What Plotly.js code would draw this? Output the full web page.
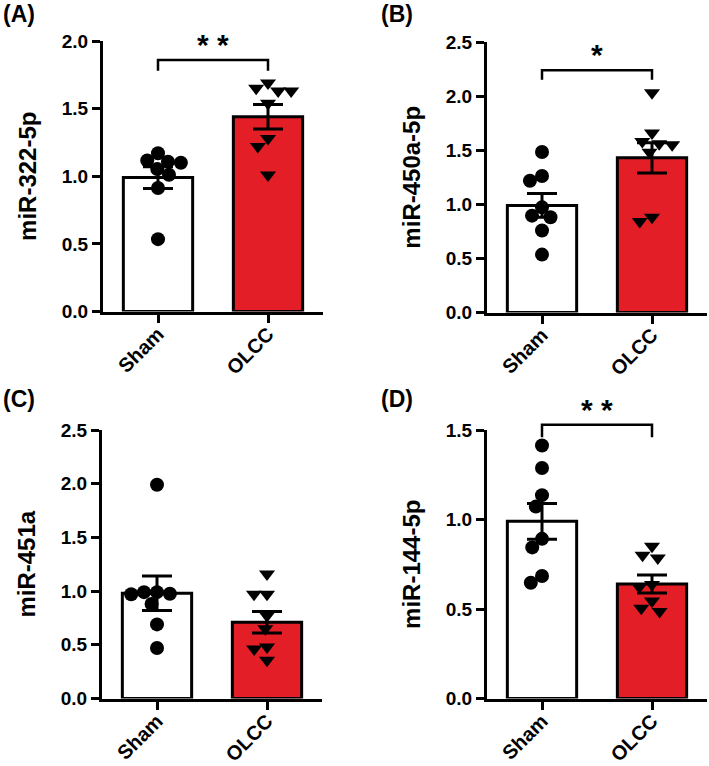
<!DOCTYPE html>
<html>
<head>
<meta charset="utf-8">
<script src="https://cdn.plot.ly/plotly-3.0.1.min.js"></script>
<style>html,body{margin:0;padding:0;background:#fff;}#chart{width:709px;height:766px;}</style>
</head>
<body>
<div id="chart"></div>
<script>
// ---------------- data ----------------
const groups = ['Sham', 'OLCC'];
const panelLabels = ['(A)', '(B)', '(C)', '(D)'];
const yTitles = ['miR-322-5p', 'miR-450a-5p', 'miR-451a', 'miR-144-5p'];
const yMax = [2.0, 2.5, 2.5, 1.5];

const shamA = [1.17, 1.116, 1.108, 1.10, 1.053, 1.011, 0.913, 0.535];
const olccA = [1.69, 1.63, 1.63, 1.65, 1.54, 1.22, 1.28, 1.01];
const meanA = [0.99, 1.44];
const semA  = [0.08, 0.09];

const shamB = [1.483, 1.262, 1.217, 0.972, 0.895, 0.881, 0.758, 0.535];
const olccB = [2.03, 1.66, 1.55, 1.58, 1.56, 1.48, 0.84, 0.88];
const meanB = [0.99, 1.43];
const semB  = [0.11, 0.14];

const shamC = [1.99, 0.99, 0.99, 0.97, 0.975, 0.88, 0.69, 0.47];
const olccC = [1.16, 0.97, 0.97, 0.77, 0.65, 0.48, 0.46, 0.355];
const meanC = [0.98, 0.71];
const semC  = [0.16, 0.10];

const shamD = [1.413, 1.288, 1.136, 1.072, 0.892, 0.844, 0.684, 0.647];
const olccD = [0.80, 0.85, 0.785, 0.637, 0.623, 0.545, 0.486, 0.504];
const meanD = [0.99, 0.64];
const semD  = [0.10, 0.05];

// significance brackets (value of horizontal line, value of leg ends, label)
const sigTop   = [1.86, 2.24, null, 1.53];
const sigLeg   = [1.78, 2.15, null, 1.46];
const sigLabel = ['* *', '*', '', '* *'];

// ---------------- layout helpers ----------------
const W = 709, H = 766;
const RED = '#E41E26';
const FONT = 'Liberation Sans, Arial, sans-serif';
// plot areas in pixels [left, right, top, bottom]
const boxes = [
  [103, 323, 41, 311.5],
  [487, 707, 42, 312.5],
  [102, 322, 430, 698.5],
  [487, 707, 430, 698.5]
];
const xRange = [-0.5, 1.5];

const panels = [
  {sham: shamA, olcc: olccA, mean: meanA, sem: semA},
  {sham: shamB, olcc: olccB, mean: meanB, sem: semB},
  {sham: shamC, olcc: olccC, mean: meanC, sem: semC},
  {sham: shamD, olcc: olccD, mean: meanD, sem: semD}
];

function swarm(vals, pxPerY, pxPerX, D) {
  const idx = vals.map((v, i) => i).sort((a, b) => vals[b] - vals[a]);
  const placed = [];
  const off = new Array(vals.length);
  idx.forEach(i => {
    const y = vals[i] * pxPerY;
    const cands = [0];
    placed.forEach(p => {
      const dy = Math.abs(p.y - y);
      if (dy < D) {
        const dx = Math.sqrt(D * D - dy * dy);
        cands.push(p.x + dx, p.x - dx);
      }
    });
    cands.sort((a, b) => (Math.abs(a) - Math.abs(b)) || (a - b));
    const x = cands.find(c => placed.every(p => (p.x - c) ** 2 + (p.y - y) ** 2 >= D * D - 0.01));
    placed.push({x: x, y: y});
    off[i] = x / pxPerX;
  });
  return off;
}

const traces = [];
const layout = {
  width: W, height: H,
  margin: {l: 0, r: 0, t: 0, b: 0},
  paper_bgcolor: 'white', plot_bgcolor: 'white',
  showlegend: false,
  font: {family: FONT, color: 'black'},
  shapes: [], annotations: []
};

panels.forEach((p, k) => {
  const b = boxes[k];
  const xs = k === 0 ? '' : String(k + 1);
  const xa = 'x' + xs, ya = 'y' + xs;
  const dom = {
    x: [b[0] / W, b[1] / W],
    y: [1 - b[3] / H, 1 - b[2] / H]
  };
  const pxPerX = (b[1] - b[0]) / (xRange[1] - xRange[0]);
  const pxPerY = (b[3] - b[2]) / yMax[k];

  const axisCommon = {
    showline: true, linewidth: 3, linecolor: 'black',
    ticks: 'outside', ticklen: 8, tickwidth: 3, tickcolor: 'black',
    showgrid: false, zeroline: false, fixedrange: true
  };
  layout['xaxis' + xs] = Object.assign({}, axisCommon, {
    domain: dom.x, range: xRange, anchor: ya,
    tickmode: 'array', tickvals: [0, 1], ticktext: groups, tickangle: -45,
    ticklabelstandoff: -8,
    tickfont: {family: FONT, size: 20, weight: 'bold', color: 'black'}
  });
  layout['yaxis' + xs] = Object.assign({}, axisCommon, {
    domain: dom.y, range: [0, yMax[k]], anchor: xa,
    tick0: 0, dtick: 0.5, tickformat: '.1f',
    tickfont: {family: FONT, size: 19, weight: 'bold', color: 'black'},
    title: {text: yTitles[k], standoff: 19, font: {family: FONT, size: 24, weight: 'bold', color: 'black'}}
  });

  // bars
  traces.push({
    type: 'bar', x: [0, 1], y: p.mean, xaxis: xa, yaxis: ya, width: 0.63,
    marker: {color: ['white', RED], line: {color: 'black', width: 3}},
    hoverinfo: 'skip'
  });
  // points
  const offS = swarm(p.sham, pxPerY, pxPerX, 13);
  const offO = swarm(p.olcc, pxPerY, pxPerX, 13);
  traces.push({
    type: 'scatter', mode: 'markers', xaxis: xa, yaxis: ya,
    x: p.sham.map((v, i) => 0 + offS[i]), y: p.sham,
    marker: {symbol: 'circle', size: 14, color: 'black'}, hoverinfo: 'skip', cliponaxis: false
  });
  traces.push({
    type: 'scatter', mode: 'markers', xaxis: xa, yaxis: ya,
    x: p.olcc.map((v, i) => 1 + offO[i]), y: p.olcc,
    marker: {symbol: 'triangle-down', size: 14, color: 'black'}, hoverinfo: 'skip', cliponaxis: false
  });
  // error bars (SEM)
  traces.push({
    type: 'scatter', mode: 'markers', xaxis: xa, yaxis: ya,
    x: [0, 1], y: p.mean, marker: {size: 1, opacity: 0},
    error_y: {type: 'data', array: p.sem, visible: true, color: 'black', thickness: 3, width: 15},
    hoverinfo: 'skip'
  });

  // helpers data -> paper
  const px = v => dom.x[0] + (v - xRange[0]) / (xRange[1] - xRange[0]) * (dom.x[1] - dom.x[0]);
  const py = v => dom.y[0] + v / yMax[k] * (dom.y[1] - dom.y[0]);

  if (sigTop[k] !== null) {
    const x0 = px(0), x1 = px(1), yt = py(sigTop[k]), yl = py(sigLeg[k]);
    layout.shapes.push({
      type: 'path', xref: 'paper', yref: 'paper',
      path: `M${x0},${yl} L${x0},${yt} L${x1},${yt} L${x1},${yl}`,
      line: {color: 'black', width: 2.5}
    });
    layout.annotations.push({
      xref: 'paper', yref: 'paper', x: (x0 + x1) / 2, y: yt,
      text: sigLabel[k], showarrow: false, xanchor: 'center', yanchor: 'bottom', yshift: -3,
      font: {family: FONT, size: 30, weight: 'bold', color: 'black'}
    });
  }
  // panel label
  const lx = k % 2 === 0 ? 1 : 379;
  const ly = k < 2 ? 14 : 399;
  layout.annotations.push({
    xref: 'paper', yref: 'paper', x: lx / W, y: 1 - ly / H,
    text: panelLabels[k], showarrow: false, xanchor: 'left', yanchor: 'middle',
    font: {family: FONT, size: 23, weight: 'bold', color: 'black'}
  });
});

Plotly.newPlot('chart', traces, layout, {staticPlot: true, displayModeBar: false});
</script>
</body>
</html>
